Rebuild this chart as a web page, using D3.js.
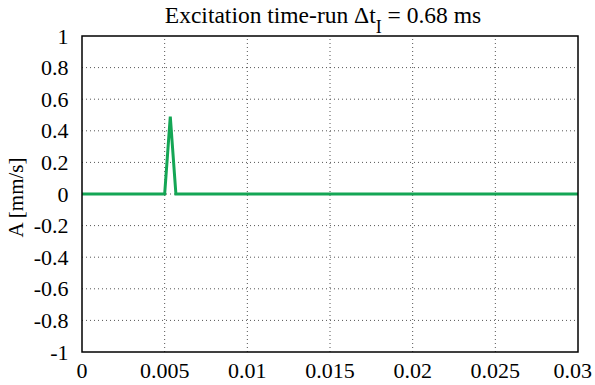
<!DOCTYPE html>
<html><head><meta charset="utf-8">
<script src="https://cdn.jsdelivr.net/npm/d3@7"></script>
<style>body{margin:0;background:#fff}svg{display:block}text{font-family:"Liberation Serif","Times New Roman",serif;fill:#000}</style>
</head><body>
<script>
const times = [0, 0.005, 0.00534, 0.00568, 0.03];
const amplitude = [0, 0, 0.49, 0, 0];
const xTicks = [0, 0.005, 0.01, 0.015, 0.02, 0.025, 0.03];
const xTickLabels = ["0", "0.005", "0.01", "0.015", "0.02", "0.025", "0.03"];
const yTicks = [-1, -0.8, -0.6, -0.4, -0.2, 0, 0.2, 0.4, 0.6, 0.8, 1];
const yTickLabels = ["-1", "-0.8", "-0.6", "-0.4", "-0.2", "0", "0.2", "0.4", "0.6", "0.8", "1"];

const W = 595, H = 385;
const m = {left: 82, right: 17, top: 36, bottom: 33};
const svg = d3.select("body").append("svg").attr("width", W).attr("height", H);
const x = d3.scaleLinear().domain([0, 0.03]).range([m.left, W - m.right]);
const y = d3.scaleLinear().domain([-1, 1]).range([H - m.bottom, m.top]);

// grid
const g = svg.append("g");
g.selectAll("line.gx").data(xTicks.slice(1, -1)).enter().append("line")
  .attr("x1", d => x(d)).attr("x2", d => x(d)).attr("y1", y(-1)).attr("y2", y(1))
  .attr("stroke", "#555").attr("stroke-width", 1).attr("stroke-dasharray", "1,3");
g.selectAll("line.gy").data(yTicks.slice(1, -1)).enter().append("line")
  .attr("y1", d => y(d)).attr("y2", d => y(d)).attr("x1", x(0)).attr("x2", x(0.03))
  .attr("stroke", "#555").attr("stroke-width", 1).attr("stroke-dasharray", "1,3");

// tick labels
svg.append("g").selectAll("text").data(xTicks).enter().append("text")
  .attr("x", d => x(d)).attr("y", y(-1) + 25.5).attr("text-anchor", "middle")
  .style("font-size", "22px").text((d, i) => xTickLabels[i])
  .each(function (d) {
    const w = this.getComputedTextLength();
    const right = x(d) + w / 2;
    if (right > W - 3) d3.select(this).attr("x", W - 3 - w / 2);
  });
svg.append("g").selectAll("text").data(yTicks).enter().append("text")
  .attr("x", x(0) - 13.5).attr("y", d => y(d) + 7.5).attr("text-anchor", "end")
  .style("font-size", "22px").text((d, i) => yTickLabels[i]);

// line
const line = d3.line().x((d, i) => x(times[i])).y(d => y(d));
svg.append("path").datum(amplitude).attr("d", line).attr("fill", "none")
  .attr("stroke", "#14a655").attr("stroke-width", 3).attr("stroke-linejoin", "miter");

// frame
svg.append("rect").attr("x", x(0)).attr("y", y(1)).attr("width", x(0.03) - x(0)).attr("height", y(-1) - y(1))
  .attr("fill", "none").attr("stroke", "#000").attr("stroke-width", 1.5);

// title
const t = svg.append("text").attr("x", 323).attr("y", 23).attr("text-anchor", "middle")
  .style("font-size", "23.5px");
t.append("tspan").text("Excitation time-run \u0394t");
t.append("tspan").attr("dy", 10).style("font-size", "18px").text("I");
t.append("tspan").attr("dy", -10).text(" = 0.68 ms");

// y label
svg.append("text").attr("transform", `translate(23,197.5) rotate(-90)`).attr("text-anchor", "middle")
  .style("font-size", "21px").text("A [mm/s]");
</script>
</body></html>
